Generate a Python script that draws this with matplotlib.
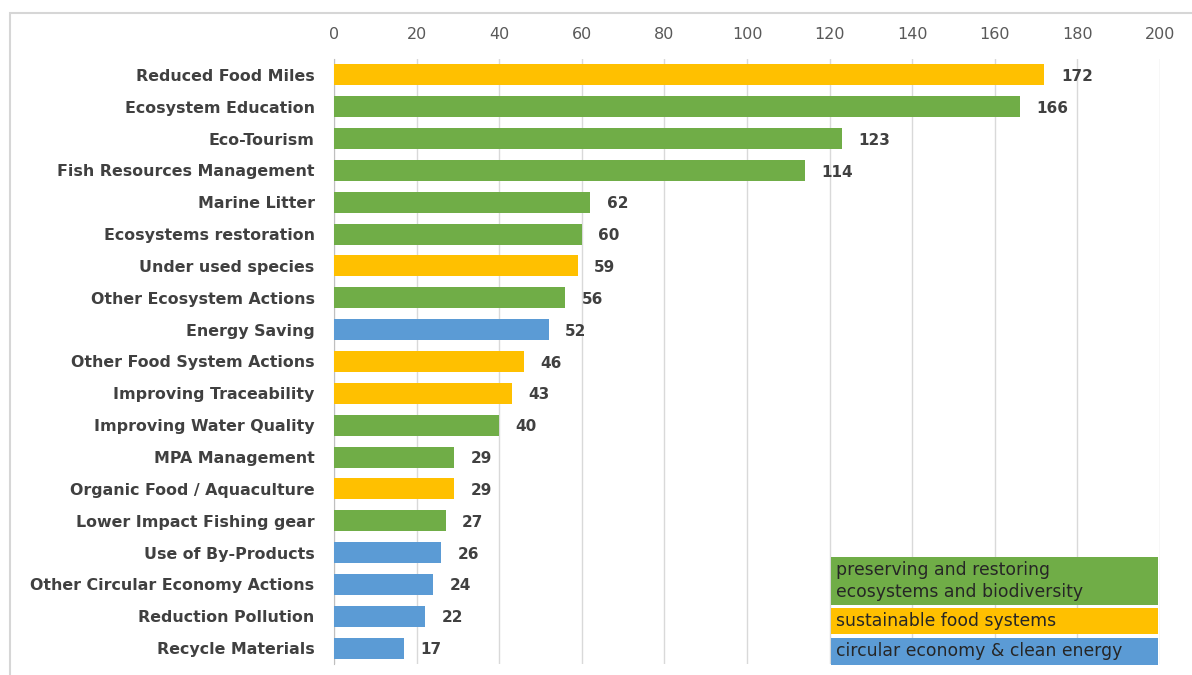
import matplotlib.pyplot as plt
from matplotlib.patches import Rectangle

plt.rcParams["font.family"] = ["DejaVu Sans"]

GREEN = "#70AD47"
YELLOW = "#FFC000"
BLUE = "#5B9BD5"

categories = [
    "Reduced Food Miles", "Ecosystem Education", "Eco-Tourism",
    "Fish Resources Management", "Marine Litter", "Ecosystems restoration",
    "Under used species", "Other Ecosystem Actions", "Energy Saving",
    "Other Food System Actions", "Improving Traceability",
    "Improving Water Quality", "MPA Management", "Organic Food / Aquaculture",
    "Lower Impact Fishing gear", "Use of By-Products",
    "Other Circular Economy Actions", "Reduction Pollution", "Recycle Materials",
]
values = [172, 166, 123, 114, 62, 60, 59, 56, 52, 46, 43, 40, 29, 29, 27, 26, 24, 22, 17]
groups = ["food", "eco", "eco", "eco", "eco", "eco", "food", "eco", "circ",
          "food", "food", "eco", "eco", "food", "eco", "circ", "circ", "circ", "circ"]
x_ticks = [0, 20, 40, 60, 80, 100, 120, 140, 160, 180, 200]

group_colors = {"eco": GREEN, "food": YELLOW, "circ": BLUE}
legend_labels = [
    ("eco", "preserving and restoring\necosystems and biodiversity"),
    ("food", "sustainable food systems"),
    ("circ", "circular economy & clean energy"),
]

W, H = 1192, 675
fig = plt.figure(figsize=(W / 100, H / 100), dpi=100)

# outer frame (partly cut off like the source)
fig.patches.append(Rectangle((10 / W, -0.05), 1.2, 1 - 13 / H + 0.05,
                             transform=fig.transFigure, fill=False,
                             edgecolor="#d6d6d6", lw=1.5))

ax = fig.add_axes([334 / W, 1 - 664 / H, 826 / W, 605 / H])
pos = list(range(len(categories)))
ax.barh(pos, values, height=0.66, color=[group_colors[g] for g in groups], zorder=3)
for p, v in zip(pos, values):
    ax.text(v + 4, p + 0.05, str(v), va="center", ha="left", fontsize=11,
            fontweight="bold", color="#404040")

ax.set_ylim(len(categories) - 0.5, -0.5)
ax.set_xlim(0, 200)
ax.set_yticks(pos)
ax.set_yticklabels(categories, fontsize=11.4, fontweight="bold", color="#404040")
ax.set_xticks(x_ticks)
ax.xaxis.tick_top()
ax.tick_params(axis="x", length=0, labelsize=11.5, labelcolor="#595959", pad=12)
ax.tick_params(axis="y", length=0, pad=14)
ax.grid(axis="x", color="#d9d9d9", lw=1, zorder=0)
for s in ["top", "right", "bottom"]:
    ax.spines[s].set_visible(False)
ax.spines["left"].set_color("#bfbfbf")

# legend boxes
boxes = [(557, 605), (608, 634), (638, 665)]
for (key, label), (y0, y1) in zip(legend_labels, boxes):
    fig.patches.append(Rectangle((831 / W, 1 - y1 / H), 327 / W, (y1 - y0) / H,
                                 transform=fig.transFigure, facecolor=group_colors[key],
                                 edgecolor="none", zorder=5))
    fig.text(836 / W, 1 - (y0 + y1) / 2 / H, label, va="center", ha="left",
             fontsize=12.4, color="#262626", linespacing=1.25, zorder=6)

fig.savefig("out.png", dpi=100)
